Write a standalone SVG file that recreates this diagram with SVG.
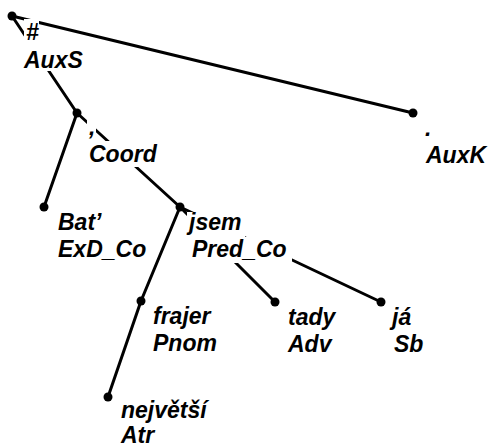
<svg xmlns="http://www.w3.org/2000/svg" width="491" height="446" viewBox="0 0 491 446">
<style>
.edge{stroke:#000;stroke-width:3;stroke-linecap:round;fill:none}
.dot{fill:#000}
.bg{fill:#fff}
.lbl{font-family:"Liberation Sans",Arial,sans-serif;font-size:23px;font-style:italic;font-weight:bold;fill:#000}
</style>
<rect width="491" height="446" fill="#fff"/>
<g id="connectors">
<line class="edge" x1="12" y1="16" x2="413" y2="113"/>
<line class="edge" x1="12" y1="16" x2="77" y2="113"/>
<line class="edge" x1="77" y1="113" x2="44" y2="207"/>
<line class="edge" x1="77" y1="113" x2="180" y2="207"/>
<line class="edge" x1="180" y1="207" x2="141" y2="301"/>
<line class="edge" x1="141" y1="301" x2="108" y2="397"/>
<line class="edge" x1="180" y1="207" x2="275" y2="302"/>
<line class="edge" x1="180" y1="207" x2="381" y2="302"/>
</g>
<g id="node-root">
<circle class="dot" cx="12" cy="16" r="4.5"/>
<rect class="bg" x="24" y="19" width="15" height="25"/>
<rect class="bg" x="22" y="44" width="62" height="27"/>
<text class="lbl" x="26" y="40">#</text>
<text class="lbl" x="24" y="68">AuxS</text>
</g>
<g id="node-auxk">
<circle class="dot" cx="413" cy="113" r="4.5"/>
<text class="lbl" x="425" y="136">.</text>
<text class="lbl" x="426" y="163">AuxK</text>
</g>
<g id="node-coord">
<circle class="dot" cx="77" cy="113" r="4.5"/>
<rect class="bg" x="87" y="118" width="9" height="23"/>
<rect class="bg" x="87" y="141" width="75" height="26"/>
<text class="lbl" x="89" y="135">,</text>
<text class="lbl" x="89" y="162">Coord</text>
</g>
<g id="node-bat">
<circle class="dot" cx="44" cy="207" r="4.5"/>
<text class="lbl" x="58" y="230">Bat’</text>
<text class="lbl" x="58" y="257">ExD_Co</text>
</g>
<g id="node-jsem">
<circle class="dot" cx="180" cy="207" r="4.5"/>
<rect class="bg" x="187" y="212" width="58" height="25"/>
<rect class="bg" x="190" y="237" width="102" height="26"/>
<text class="lbl" x="189" y="230">jsem</text>
<text class="lbl" x="192" y="257">Pred_Co</text>
</g>
<g id="node-frajer">
<circle class="dot" cx="141" cy="301" r="4.5"/>
<text class="lbl" x="153" y="324">frajer</text>
<text class="lbl" x="153" y="351">Pnom</text>
</g>
<g id="node-nejvetsi">
<circle class="dot" cx="108" cy="397" r="4.5"/>
<text class="lbl" x="121" y="418">největší</text>
<text class="lbl" x="121" y="443">Atr</text>
</g>
<g id="node-tady">
<circle class="dot" cx="275" cy="302" r="4.5"/>
<text class="lbl" x="288" y="325">tady</text>
<text class="lbl" x="288" y="352">Adv</text>
</g>
<g id="node-ja">
<circle class="dot" cx="381" cy="302" r="4.5"/>
<text class="lbl" x="392" y="325">já</text>
<text class="lbl" x="394" y="352">Sb</text>
</g>
</svg>
